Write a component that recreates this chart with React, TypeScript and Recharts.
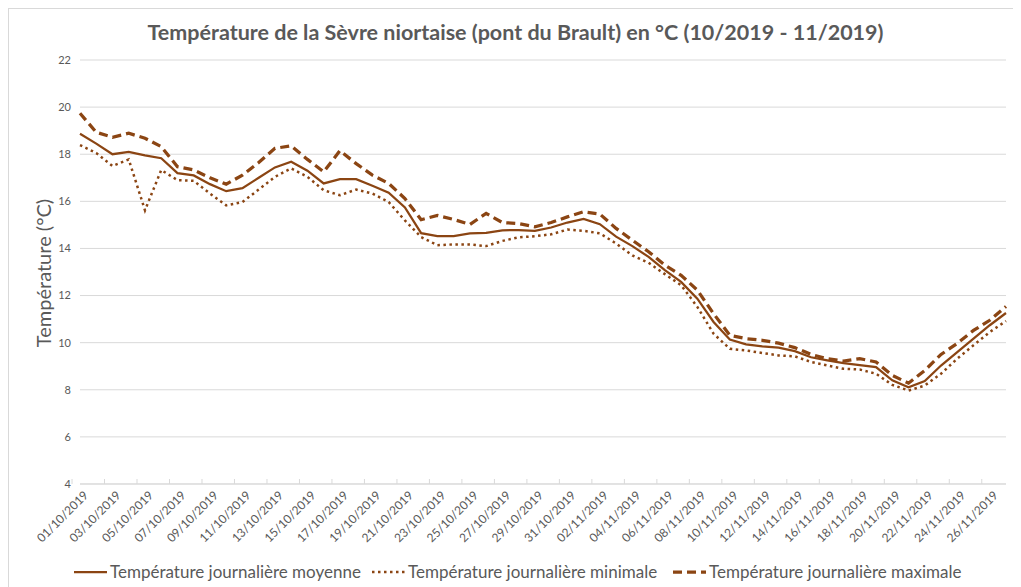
import { CartesianGrid, Legend, Line, LineChart, XAxis, YAxis } from 'recharts';

const dates = [
  '01/10/2019', '02/10/2019', '03/10/2019', '04/10/2019', '05/10/2019', '06/10/2019',
  '07/10/2019', '08/10/2019', '09/10/2019', '10/10/2019', '11/10/2019', '12/10/2019',
  '13/10/2019', '14/10/2019', '15/10/2019', '16/10/2019', '17/10/2019', '18/10/2019',
  '19/10/2019', '20/10/2019', '21/10/2019', '22/10/2019', '23/10/2019', '24/10/2019',
  '25/10/2019', '26/10/2019', '27/10/2019', '28/10/2019', '29/10/2019', '30/10/2019',
  '31/10/2019', '01/11/2019', '02/11/2019', '03/11/2019', '04/11/2019', '05/11/2019',
  '06/11/2019', '07/11/2019', '08/11/2019', '09/11/2019', '10/11/2019', '11/11/2019',
  '12/11/2019', '13/11/2019', '14/11/2019', '15/11/2019', '16/11/2019', '17/11/2019',
  '18/11/2019', '19/11/2019', '20/11/2019', '21/11/2019', '22/11/2019', '23/11/2019',
  '24/11/2019', '25/11/2019', '26/11/2019', '27/11/2019',
];

const moyenne = [
  18.87, 18.45, 18.0, 18.1, 17.95, 17.83, 17.2, 17.1, 16.73, 16.43, 16.56, 17.0,
  17.44, 17.68, 17.3, 16.76, 16.94, 16.94, 16.66, 16.37, 15.74, 14.65, 14.52, 14.52,
  14.64, 14.66, 14.77, 14.78, 14.75, 14.89, 15.1, 15.25, 15.03, 14.5, 14.1, 13.64,
  13.08, 12.58, 11.87, 10.88, 10.13, 9.93, 9.84, 9.79, 9.64, 9.38, 9.25, 9.13,
  9.05, 8.96, 8.4, 8.11, 8.37, 9.03, 9.6, 10.17, 10.74, 11.26,
];

const minimale = [
  18.39, 18.05, 17.5, 17.78, 15.62, 17.33, 16.9, 16.87, 16.33, 15.83, 15.97, 16.5,
  17.04, 17.4, 17.04, 16.47, 16.26, 16.5, 16.33, 15.97, 15.19, 14.48, 14.14, 14.17,
  14.17, 14.1, 14.32, 14.47, 14.52, 14.6, 14.8, 14.75, 14.64, 14.21, 13.7, 13.39,
  12.91, 12.44, 11.52, 10.38, 9.74, 9.67, 9.56, 9.46, 9.42, 9.18, 9.03, 8.89,
  8.86, 8.68, 8.21, 7.97, 8.18, 8.68, 9.32, 9.89, 10.45, 10.92,
];

const maximale = [
  19.74, 18.93, 18.72, 18.89, 18.68, 18.32, 17.47, 17.33, 17.0, 16.73, 17.11, 17.65,
  18.25, 18.36, 17.78, 17.25, 18.15, 17.6, 17.11, 16.76, 16.12, 15.22, 15.4, 15.23,
  15.02, 15.49, 15.1, 15.06, 14.92, 15.1, 15.34, 15.56, 15.46, 14.85, 14.35, 13.86,
  13.29, 12.86, 12.23, 11.23, 10.31, 10.17, 10.1, 9.98, 9.79, 9.5, 9.32, 9.22,
  9.32, 9.18, 8.61, 8.28, 8.82, 9.5, 9.97, 10.52, 10.95, 11.54,
];

const yTicks = [4, 6, 8, 10, 12, 14, 16, 18, 20, 22];

const data = dates.map((date, i) => ({
  date,
  moyenne: moyenne[i],
  minimale: minimale[i],
  maximale: maximale[i],
}));

const BROWN = '#8B4513';
const GREY = '#595959';
const FONT = 'Lato, "Open Sans", sans-serif';
const PLOT_W = 925;

const series = [
  { key: 'moyenne', name: 'Température journalière moyenne', dash: undefined, width: 2.25, left: 65 },
  { key: 'minimale', name: 'Température journalière minimale', dash: '2.5 3.5', width: 2.5, left: 363 },
  { key: 'maximale', name: 'Température journalière maximale', dash: '9 5', width: 3.25, left: 664 },
];

const DateTick = ({ x, y, payload }: any) => {
  const half = PLOT_W / dates.length / 2;
  const tx = x + 9;
  const ty = y + 12;
  return (
    <g>
      <line x1={x - half} x2={x - half} y1={y - 5} y2={y} stroke='#d9d9d9' />
      <text
        x={tx}
        y={ty}
        textAnchor='end'
        fontSize={12}
        fontFamily={FONT}
        fill={GREY}
        transform={`rotate(-45 ${tx} ${ty})`}
      >
        {payload.value}
      </text>
    </g>
  );
};

const LegendContent = () => (
  <div
    style={{
      position: 'relative',
      height: 30,
      fontFamily: FONT,
      fontSize: 17,
      color: GREY,
    }}
  >
    {series.map((s) => (
      <div
        key={s.key}
        style={{
          position: 'absolute',
          left: s.left,
          top: 4,
          display: 'flex',
          alignItems: 'center',
          whiteSpace: 'nowrap',
        }}
      >
        <svg width={35} height={10}>
          <line
            x1={1}
            x2={34}
            y1={5}
            y2={5}
            stroke={BROWN}
            strokeWidth={s.width}
            strokeDasharray={s.dash}
          />
        </svg>
        <span style={{ marginLeft: 2 }}>{s.name}</span>
      </div>
    ))}
  </div>
);

export default function App() {
  return (
    <div
      style={{
        position: 'relative',
        width: 1013,
        height: 579,
        borderLeft: '1px solid #d9d9d9',
        borderTop: '1px solid #d9d9d9',
        boxSizing: 'border-box',
      }}
    >
      <div
        style={{
          position: 'absolute',
          top: 10,
          left: 0,
          width: 1013,
          textAlign: 'center',
          fontFamily: FONT,
          fontWeight: 'bold',
          fontSize: 21.5,
          color: GREY,
        }}
      >
        Température de la Sèvre niortaise (pont du Brault) en °C (10/2019 - 11/2019)
      </div>
      <div
        style={{
          position: 'absolute',
          left: 34,
          top: 264,
          transform: 'translate(-50%, -50%) rotate(-90deg)',
          whiteSpace: 'nowrap',
          fontFamily: FONT,
          fontSize: 20,
          color: GREY,
        }}
      >
        Température (°C)
      </div>
      <LineChart
        width={1012}
        height={578}
        data={data}
        margin={{ top: 51, right: 15, left: -1, bottom: 0 }}
      >
        <CartesianGrid vertical={false} stroke='#d9d9d9' />
        <XAxis
          dataKey='date'
          interval={1}
          tickSize={0}
          tickMargin={0}
          height={73}
          stroke='#d9d9d9'
          tick={<DateTick />}
        />
        <YAxis
          width={72}
          domain={[4, 22]}
          ticks={yTicks}
          axisLine={false}
          tickLine={false}
          tickSize={0}
          tickMargin={9}
          tick={{ fontSize: 11, fill: GREY, fontFamily: FONT }}
        />
        <Legend verticalAlign='bottom' height={30} content={<LegendContent />} />
        {series.map((s) => (
          <Line
            key={s.key}
            type='linear'
            dataKey={s.key}
            name={s.name}
            stroke={BROWN}
            strokeWidth={s.width}
            strokeDasharray={s.dash}
            dot={false}
            activeDot={false}
            isAnimationActive={false}
          />
        ))}
      </LineChart>
    </div>
  );
}
